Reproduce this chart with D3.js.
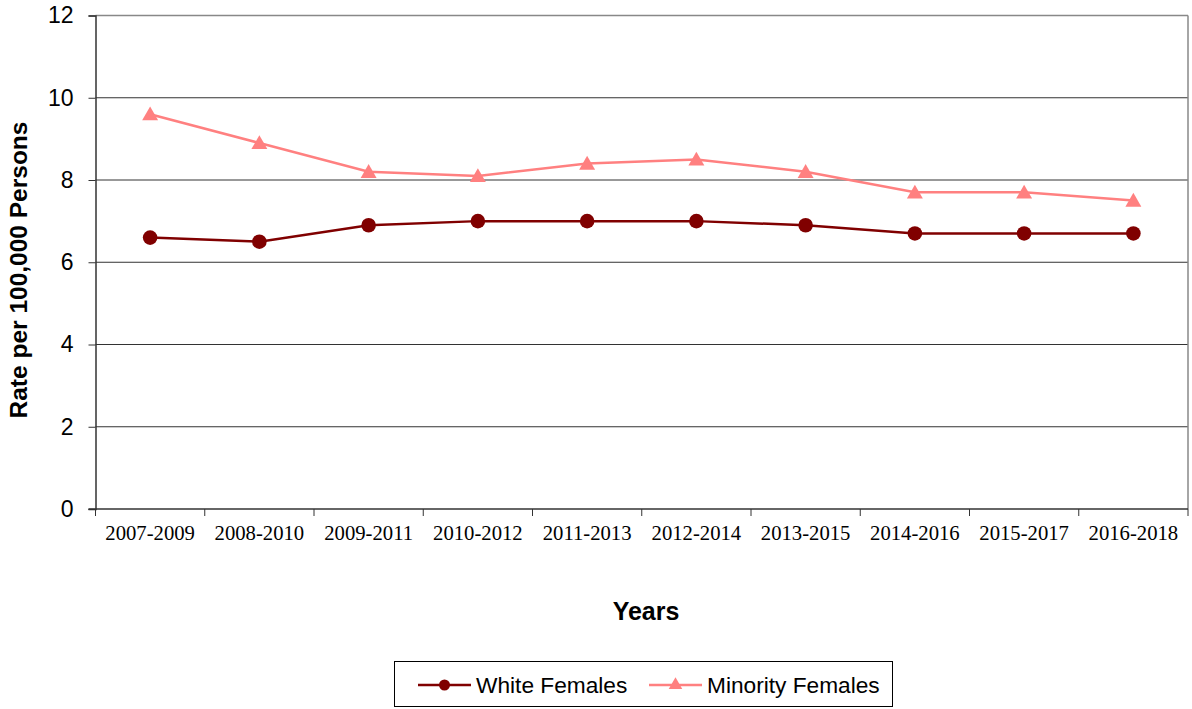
<!DOCTYPE html>
<html>
<head>
<meta charset="utf-8">
<script src="https://cdn.jsdelivr.net/npm/d3@7"></script>
<style>
  body { margin: 0; background: #fff; }
  svg { display: block; }
</style>
</head>
<body>
<svg id="chart" width="1192" height="709"></svg>
<script>
// Chart data
var years = ['2007-2009', '2008-2010', '2009-2011', '2010-2012', '2011-2013',
  '2012-2014', '2013-2015', '2014-2016', '2015-2017', '2016-2018']
var whiteFemales = [6.6, 6.5, 6.9, 7.0, 7.0, 7.0, 6.9, 6.7, 6.7, 6.7]
var minorityFemales = [9.6, 8.9, 8.2, 8.1, 8.4, 8.5, 8.2, 7.7, 7.7, 7.5]
var yTicks = [0, 2, 4, 6, 8, 10, 12]

var conf = {
  left: 95.5,
  right: 1188,
  top: 15.5,
  bottom: 509,
  white: '#800000',
  minority: '#ff8080'
}

var svg = d3.select('#chart')

var x = d3.scaleBand()
  .domain(years)
  .range([conf.left, conf.right])

var y = d3.scaleLinear()
  .domain([0, 12])
  .range([conf.bottom, conf.top])

// Gridlines
svg.append('g')
  .selectAll('line')
  .data(yTicks.filter(function (d) { return d > 0 && d < 12 }))
  .enter()
  .append('line')
  .attr('x1', conf.left)
  .attr('x2', conf.right)
  .attr('y1', function (d) { return y(d) })
  .attr('y2', function (d) { return y(d) })
  .attr('stroke', '#333')
  .attr('stroke-width', 1)

// Plot frame (top/right gray)
svg.append('line')
  .attr('x1', conf.left).attr('x2', conf.right)
  .attr('y1', conf.top).attr('y2', conf.top)
  .attr('stroke', '#888').attr('stroke-width', 1.5)
svg.append('line')
  .attr('x1', conf.right).attr('x2', conf.right)
  .attr('y1', conf.top).attr('y2', conf.bottom)
  .attr('stroke', '#888').attr('stroke-width', 1.5)

// Y axis
var yAxis = svg.append('g')
  .attr('transform', 'translate(' + conf.left + ',0)')
  .call(d3.axisLeft(y).tickValues(yTicks).tickSize(7).tickPadding(15).tickFormat(d3.format('d')))
yAxis.select('.domain').attr('stroke', '#333').attr('stroke-width', 1.5)
yAxis.selectAll('.tick line').attr('stroke', '#333')
yAxis.selectAll('text')
  .attr('font-family', 'Liberation Sans, Arial, sans-serif')
  .attr('font-size', 23)
  .attr('fill', '#000')

// X axis (ticks at category boundaries)
var xAxisG = svg.append('g')
  .attr('transform', 'translate(0,' + conf.bottom + ')')
xAxisG.append('line')
  .attr('x1', conf.left - 7).attr('x2', conf.right)
  .attr('stroke', '#333').attr('stroke-width', 1.5)
var bounds = years.map(function (d) { return x(d) }).concat([x(years[years.length - 1]) + x.bandwidth()])
xAxisG.selectAll('line.tick')
  .data(bounds)
  .enter()
  .append('line')
  .attr('class', 'tick')
  .attr('x1', function (d) { return d })
  .attr('x2', function (d) { return d })
  .attr('y1', 0)
  .attr('y2', 7)
  .attr('stroke', '#333')
xAxisG.selectAll('text')
  .data(years)
  .enter()
  .append('text')
  .text(function (d) { return d })
  .attr('x', function (d) { return x(d) + x.bandwidth() / 2 })
  .attr('y', 30.5)
  .attr('text-anchor', 'middle')
  .attr('font-family', 'Liberation Serif, Times New Roman, serif')
  .attr('font-size', 20.7)

// Axis titles
svg.append('text')
  .text('Rate per 100,000 Persons')
  .attr('transform', 'translate(27,270) rotate(-90)')
  .attr('text-anchor', 'middle')
  .attr('font-family', 'Liberation Sans, Arial, sans-serif')
  .attr('font-weight', 'bold')
  .attr('font-size', 24.5)

svg.append('text')
  .text('Years')
  .attr('x', 646)
  .attr('y', 619.5)
  .attr('text-anchor', 'middle')
  .attr('font-family', 'Liberation Sans, Arial, sans-serif')
  .attr('font-weight', 'bold')
  .attr('font-size', 25)

// Series
var cx = function (d, i) { return x(years[i]) + x.bandwidth() / 2 }
var line = d3.line()
  .x(function (d, i) { return cx(d, i) })
  .y(function (d) { return y(d) })

svg.append('path')
  .datum(minorityFemales)
  .attr('d', line)
  .attr('fill', 'none')
  .attr('stroke', conf.minority)
  .attr('stroke-width', 2.5)

svg.append('path')
  .datum(whiteFemales)
  .attr('d', line)
  .attr('fill', 'none')
  .attr('stroke', conf.white)
  .attr('stroke-width', 2.5)

var tri = d3.symbol().type(d3.symbolTriangle).size(110)

svg.append('g')
  .selectAll('path')
  .data(minorityFemales)
  .enter()
  .append('path')
  .attr('d', tri)
  .attr('transform', function (d, i) { return 'translate(' + cx(d, i) + ',' + (y(d) + 1.5) + ')' })
  .attr('fill', conf.minority)

svg.append('g')
  .selectAll('circle')
  .data(whiteFemales)
  .enter()
  .append('circle')
  .attr('cx', cx)
  .attr('cy', function (d) { return y(d) })
  .attr('r', 7.3)
  .attr('fill', conf.white)

// Legend
var legend = svg.append('g')
legend.append('rect')
  .attr('x', 394.5).attr('y', 661.5)
  .attr('width', 498).attr('height', 45)
  .attr('fill', '#fff').attr('stroke', '#000').attr('stroke-width', 1)

var legendItems = [
  { name: 'White Females', color: conf.white, shape: 'circle', x: 418 },
  { name: 'Minority Females', color: conf.minority, shape: 'triangle', x: 649 }
]
var li = legend.selectAll('g.item')
  .data(legendItems)
  .enter()
  .append('g')
  .attr('class', 'item')
  .attr('transform', function (d) { return 'translate(' + d.x + ',685)' })
li.append('line')
  .attr('x1', 0).attr('x2', 53)
  .attr('stroke', function (d) { return d.color })
  .attr('stroke-width', 2.5)
li.each(function (d) {
  var g = d3.select(this)
  if (d.shape === 'circle') {
    g.append('circle').attr('cx', 26.5).attr('r', 5.5).attr('fill', d.color)
  } else {
    g.append('path').attr('d', d3.symbol().type(d3.symbolTriangle).size(80))
      .attr('transform', 'translate(26.5,0)').attr('fill', d.color)
  }
})
li.append('text')
  .text(function (d) { return d.name })
  .attr('x', 58)
  .attr('y', 8)
  .attr('font-family', 'Liberation Sans, Arial, sans-serif')
  .attr('font-size', 22.7)
</script>
</body>
</html>
